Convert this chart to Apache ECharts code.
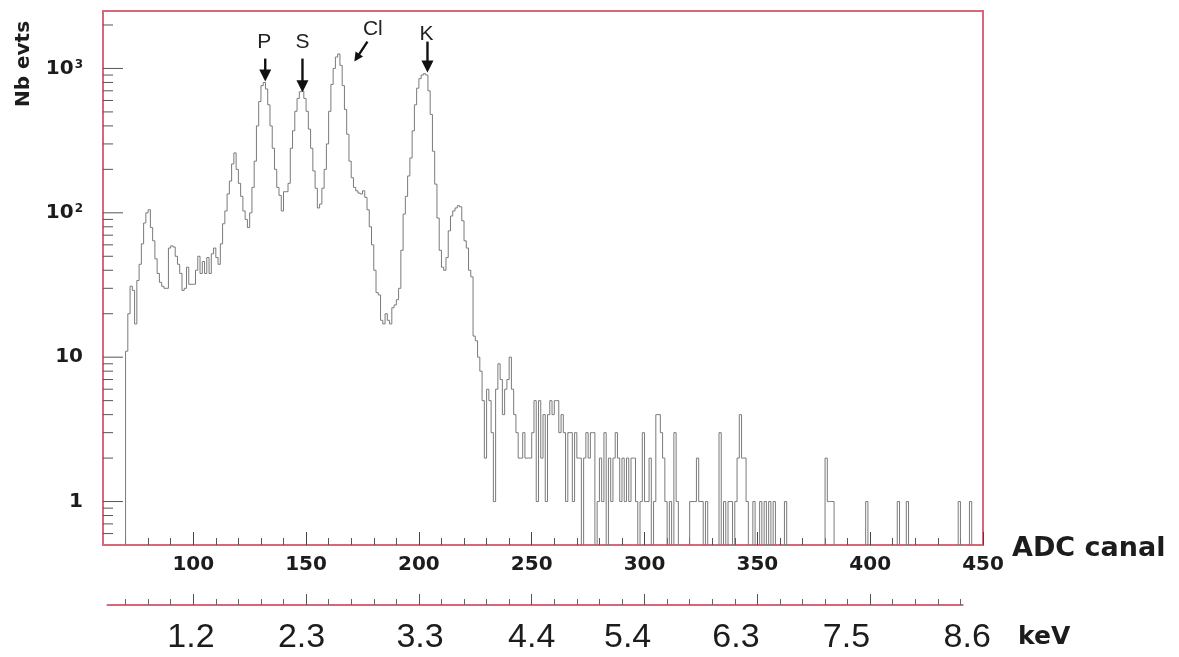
<!DOCTYPE html>
<html>
<head>
<meta charset="utf-8">
<script src="https://cdn.jsdelivr.net/npm/echarts@6/dist/echarts.min.js"></script>
<style>
html, body { margin: 0; padding: 0; background: #ffffff; }
#chart { width: 1179px; height: 657px; }
</style>
</head>
<body>
<div id="chart"></div>
<script>
// ADC spectrum, one bin per channel, first bin = channel 70
const firstChannel = 70;
const counts = [
  11, 20, 31, 29, 17, 34, 44, 61, 85, 100,        // 70
  105, 79, 64, 48, 38, 33, 31, 30, 30, 57,        // 80
  59, 58, 50, 44, 38, 29, 30, 42, 32, 32,         // 90
  32, 40, 50, 38, 46, 38, 49, 38, 52, 57,         // 100
  49, 44, 61, 84, 103, 135, 166, 218, 260, 200,   // 110
  160, 130, 103, 90, 79, 100, 150, 228, 400, 590, // 120
  760, 800, 720, 560, 400, 280, 200, 150, 132, 103, // 130
  140, 140, 160, 280, 370, 505, 620, 690, 700, 620, // 140
  505, 380, 280, 195, 148, 108, 115, 148, 200, 300, // 150
  505, 775, 1000, 1200, 1260, 1050, 760, 520, 350, 228, // 160
  175, 150, 142, 137, 135, 142, 128, 105, 80, 60, // 170
  40, 28, 27, 18, 17, 20, 18, 17, 22, 23,         // 180
  25, 30, 55, 98, 130, 180, 240, 370, 560, 730,   // 190
  850, 900, 920, 900, 700, 480, 267, 158, 92, 55, // 200
  42, 40, 49, 75, 95, 103, 108, 112, 110, 88,     // 210
  64, 57, 40, 36, 14, 13, 10, 8, 5, 2,            // 220
  6, 5, 3, 1, 6, 9, 7, 4, 6, 7,                   // 230
  10, 6, 4, 3, 2, 2, 3, 2, 2, 2,                  // 240
  3, 5, 1, 5, 2, 4, 1, 4, 5, 4,                   // 250
  5, 5, 3, 4, 3, 1, 3, 3, 1, 3,                   // 260
  2, 2, 0, 2, 3, 2, 3, 3, 0, 1,                   // 270
  2, 1, 3, 0, 2, 1, 2, 3, 2, 1,                   // 280
  2, 1, 2, 1, 2, 2, 1, 0, 1, 3,                   // 290
  1, 1, 2, 0, 1, 4, 4, 3, 2, 1,                   // 300
  0, 1, 0, 3, 1, 0, 0, 0, 0, 0,                   // 310
  1, 1, 1, 2, 1, 1, 0, 1, 0, 0,                   // 320
  0, 0, 0, 3, 0, 1, 0, 1, 1, 0,                   // 330
  1, 2, 4, 2, 2, 1, 0, 0, 1, 0,                   // 340
  0, 1, 0, 1, 0, 1, 0, 1, 0, 0,                   // 350
  0, 0, 1, 0, 0, 0, 0, 0, 0, 0,                   // 360
  0, 0, 0, 0, 0, 0, 0, 0, 0, 0,                   // 370
  2, 1, 1, 1, 0, 0, 0, 0, 0, 0,                   // 380
  0, 0, 0, 0, 0, 0, 0, 0, 1, 0,                   // 390
  0, 0, 0, 0, 0, 0, 0, 0, 0, 0,                   // 400
  0, 0, 1, 0, 0, 0, 1, 0, 0, 0,                   // 410
  0, 0, 0, 0, 0, 0, 0, 0, 0, 0,                   // 420
  0, 0, 0, 0, 0, 0, 0, 0, 0, 1,                   // 430
  0, 0, 0, 0, 1, 0, 0, 0, 0, 0                    // 440
];

// ADC axis ticks
const adcMajorTicks = [100, 150, 200, 250, 300, 350, 400, 450];
const adcMinorTicks = [70, 80, 90, 110, 120, 130, 140, 160, 170, 180, 190,
  210, 220, 230, 240, 260, 270, 280, 290, 310, 320, 330, 340,
  360, 370, 380, 390, 410, 420, 430, 440];

// log-axis tick values (decades get the long ticks)
const yTickValues = [0.6, 0.7, 0.8, 0.9, 1, 2, 3, 4, 5, 6, 7, 8, 9,
  10, 20, 30, 40, 50, 60, 70, 80, 90,
  100, 200, 300, 400, 500, 600, 700, 800, 900, 1000, 2000];

// energy scale under the ADC axis
const kevLabels = ['1.2', '2.3', '3.3', '4.4', '5.4', '6.3', '7.5', '8.6'];
const kevLabelAt = [99, 148, 200.5, 250, 292.5, 340.5, 389.5, 443];
const kevMajorTicks = [100, 150, 200, 250, 300, 350, 400];
const kevMinorTicks = [70, 80, 90, 110, 120, 130, 140, 160, 170, 180, 190,
  210, 220, 230, 240, 260, 270, 280, 290, 310, 320, 330, 340,
  360, 370, 380, 390, 410, 420, 430, 440];

// line identifications: label anchor, arrow tail, arrow tip (ADC, counts)
const peakNames = ['P', 'S', 'Cl', 'K'];
const peakLabelAt = [[131.5, 1510], [148.4, 1510], [179.6, 1860], [203.4, 1720]];
const arrowFrom = [[131.9, 1170], [148.4, 1170], [177.2, 1535], [203.8, 1535]];
const arrowTo = [[131.9, 813], [148.4, 683], [171.4, 1117], [203.8, 938]];
const arrowHeadLen = [12, 12, 9, 12];

const FRAME = '#d66878';
const INK = '#1c1c1c';

const histData = counts.map((v, i) => [firstChannel + i, v, i > 0 ? counts[i - 1] : 0]);

function renderHist(params, api) {
  const c = api.value(0), v = api.value(1), p = api.value(2);
  const cs = params.coordSys;
  const base = cs.y + cs.height;
  const yOf = val => (val > 0 ? api.coord([c, val])[1] : base);
  const x0 = api.coord([c, 1])[0];
  const x1 = api.coord([c + 1, 1])[0];
  let pts;
  if (v > 0) {
    pts = [[x0, yOf(p)], [x0, yOf(v)], [x1, yOf(v)]];
  } else if (p > 0) {
    pts = [[x0, yOf(p)], [x0, base]];
  } else {
    return null;
  }
  return {
    type: 'polyline',
    shape: { points: pts },
    style: { stroke: '#7a7a7a', lineWidth: 1, fill: null },
    silent: true
  };
}

function renderYTick(params, api) {
  const v = api.value(1);
  const pt = api.coord([api.value(0), v]);
  const lg = Math.log10(v);
  const major = Math.abs(lg - Math.round(lg)) < 1e-9;
  const len = major ? 20 : 10;
  return {
    type: 'line',
    shape: { x1: pt[0], y1: pt[1], x2: pt[0] + len, y2: pt[1] },
    style: { stroke: '#555555', lineWidth: 1 },
    silent: true
  };
}

function renderPeak(params, api) {
  const i = params.dataIndex;
  const t = api.coord([api.value(0), api.value(1)]);
  const a = api.coord([api.value(2), api.value(3)]);
  const b = api.coord([api.value(4), api.value(5)]);
  const dx = b[0] - a[0], dy = b[1] - a[1];
  const L = Math.sqrt(dx * dx + dy * dy);
  const ux = dx / L, uy = dy / L;
  const h = arrowHeadLen[i], hw = h * 0.5;
  const bx = b[0] - ux * h, by = b[1] - uy * h;
  return {
    type: 'group',
    silent: true,
    children: [
      {
        type: 'text', x: t[0], y: t[1],
        style: { text: peakNames[i], font: '21px "Liberation Sans", Arial, sans-serif',
                 fill: '#222', align: 'center', verticalAlign: 'middle' }
      },
      {
        type: 'line',
        shape: { x1: a[0], y1: a[1], x2: bx + ux, y2: by + uy },
        style: { stroke: '#111', lineWidth: 2.4 }
      },
      {
        type: 'polygon',
        shape: { points: [[b[0], b[1]], [bx - uy * hw, by + ux * hw], [bx + uy * hw, by - ux * hw]] },
        style: { fill: '#111' }
      }
    ]
  };
}

const boldFont = 'DejaVu Sans';
const chart = echarts.init(document.getElementById('chart'), null, { renderer: 'canvas' });

chart.setOption({
  animation: false,
  backgroundColor: '#ffffff',
  grid: [
    { left: 103, right: 196, top: 11, bottom: 112, show: true, borderColor: FRAME, borderWidth: 2,
      backgroundColor: 'transparent', containLabel: false, outerBoundsMode: 'none' },
    { left: 107.5, right: 216.3, top: 600, bottom: 52, show: false, containLabel: false, outerBoundsMode: 'none' }
  ],
  xAxis: [
    { // ADC axis: long ticks and labels
      type: 'value', gridIndex: 0, position: 'bottom', min: 60, max: 450,
      axisLine: { show: false },
      splitLine: { show: false },
      axisTick: { show: true, inside: true, length: 13, customValues: adcMajorTicks,
                  lineStyle: { color: '#444', width: 1 } },
      axisLabel: { show: true, customValues: adcMajorTicks, margin: 10,
                   fontFamily: boldFont, fontWeight: 'bold', fontSize: 20, color: INK }
    },
    { // ADC axis: short ticks
      type: 'value', gridIndex: 0, position: 'bottom', offset: 0, min: 60, max: 450,
      axisLine: { show: false }, splitLine: { show: false }, axisLabel: { show: false },
      axisTick: { show: true, inside: true, length: 7, customValues: adcMinorTicks,
                  lineStyle: { color: '#555', width: 1 } }
    },
    { // energy labels
      type: 'value', gridIndex: 0, position: 'bottom', offset: 0, min: 60, max: 450,
      axisLine: { show: false }, splitLine: { show: false }, axisTick: { show: false },
      axisLabel: {
        show: true, customValues: kevLabelAt, margin: 76,
        fontFamily: 'Liberation Sans', fontSize: 34, color: INK,
        formatter: function (val) {
          let best = 0;
          kevLabelAt.forEach((p, k) => { if (Math.abs(p - val) < Math.abs(kevLabelAt[best] - val)) best = k; });
          return kevLabels[best];
        }
      }
    },
    { // energy axis line and long ticks
      type: 'value', gridIndex: 1, position: 'bottom', min: 62, max: 441,
      axisLine: { show: true, lineStyle: { color: FRAME, width: 2 } },
      splitLine: { show: false }, axisLabel: { show: false },
      axisTick: { show: true, inside: true, length: 11, customValues: kevMajorTicks,
                  lineStyle: { color: '#555', width: 1 } }
    },
    { // energy axis short ticks
      type: 'value', gridIndex: 1, position: 'bottom', offset: 0, min: 62, max: 441,
      axisLine: { show: false }, splitLine: { show: false }, axisLabel: { show: false },
      axisTick: { show: true, inside: true, length: 6, customValues: kevMinorTicks,
                  lineStyle: { color: '#666', width: 1 } }
    }
  ],
  yAxis: [
    {
      type: 'log', logBase: 10, gridIndex: 0, min: 0.5, max: 2500,
      axisLine: { show: false }, axisTick: { show: false }, splitLine: { show: false },
      axisLabel: {
        show: true, margin: 20, showMinLabel: false, showMaxLabel: false,
        fontFamily: boldFont, fontWeight: 'bold', fontSize: 20, color: INK,
        formatter: function (val) {
          const e = Math.log10(val);
          if (Math.abs(e - Math.round(e)) > 1e-6) return '';
          const n = Math.round(e);
          if (n === 0) return '1';
          if (n === 1) return '10';
          return '{b|10}{s|' + n + '}';
        },
        rich: {
          b: { fontFamily: boldFont, fontWeight: 'bold', fontSize: 20, color: INK,
               verticalAlign: 'bottom', lineHeight: 20 },
          s: { fontFamily: boldFont, fontWeight: 'bold', fontSize: 12, color: INK,
               verticalAlign: 'top', lineHeight: 12, padding: [0, 0, 12, 1] }
        }
      }
    },
    { type: 'value', gridIndex: 1, min: 0, max: 1, show: false }
  ],
  series: [
    {
      name: 'counts', type: 'custom', xAxisIndex: 0, yAxisIndex: 0,
      renderItem: renderHist, data: histData, encode: { x: 0, y: 1 }, z: 3, silent: true
    },
    {
      name: 'yTicks', type: 'custom', xAxisIndex: 0, yAxisIndex: 0,
      renderItem: renderYTick, data: yTickValues.map(v => [60, v]), encode: { x: 0, y: 1 }, z: 4, silent: true
    },
    {
      name: 'lines', type: 'custom', xAxisIndex: 0, yAxisIndex: 0,
      renderItem: renderPeak,
      data: peakNames.map((n, i) => [peakLabelAt[i][0], peakLabelAt[i][1],
        arrowFrom[i][0], arrowFrom[i][1], arrowTo[i][0], arrowTo[i][1]]),
      encode: { x: 0, y: 1 }, z: 5, silent: true
    }
  ],
  graphic: [
    { type: 'text', x: 24, y: 64, rotation: Math.PI / 2, silent: true,
      style: { text: 'Nb evts', font: 'bold 20px "DejaVu Sans"', fill: INK, align: 'center', verticalAlign: 'middle' } },
    { type: 'text', x: 1012, y: 549, silent: true,
      style: { text: 'ADC canal', font: 'bold 27px "DejaVu Sans"', fill: INK, align: 'left', verticalAlign: 'middle' } },
    { type: 'text', x: 1018, y: 637, silent: true,
      style: { text: 'keV', font: 'bold 25px "DejaVu Sans"', fill: INK, align: 'left', verticalAlign: 'middle' } }
  ]
});
</script>
</body>
</html>
